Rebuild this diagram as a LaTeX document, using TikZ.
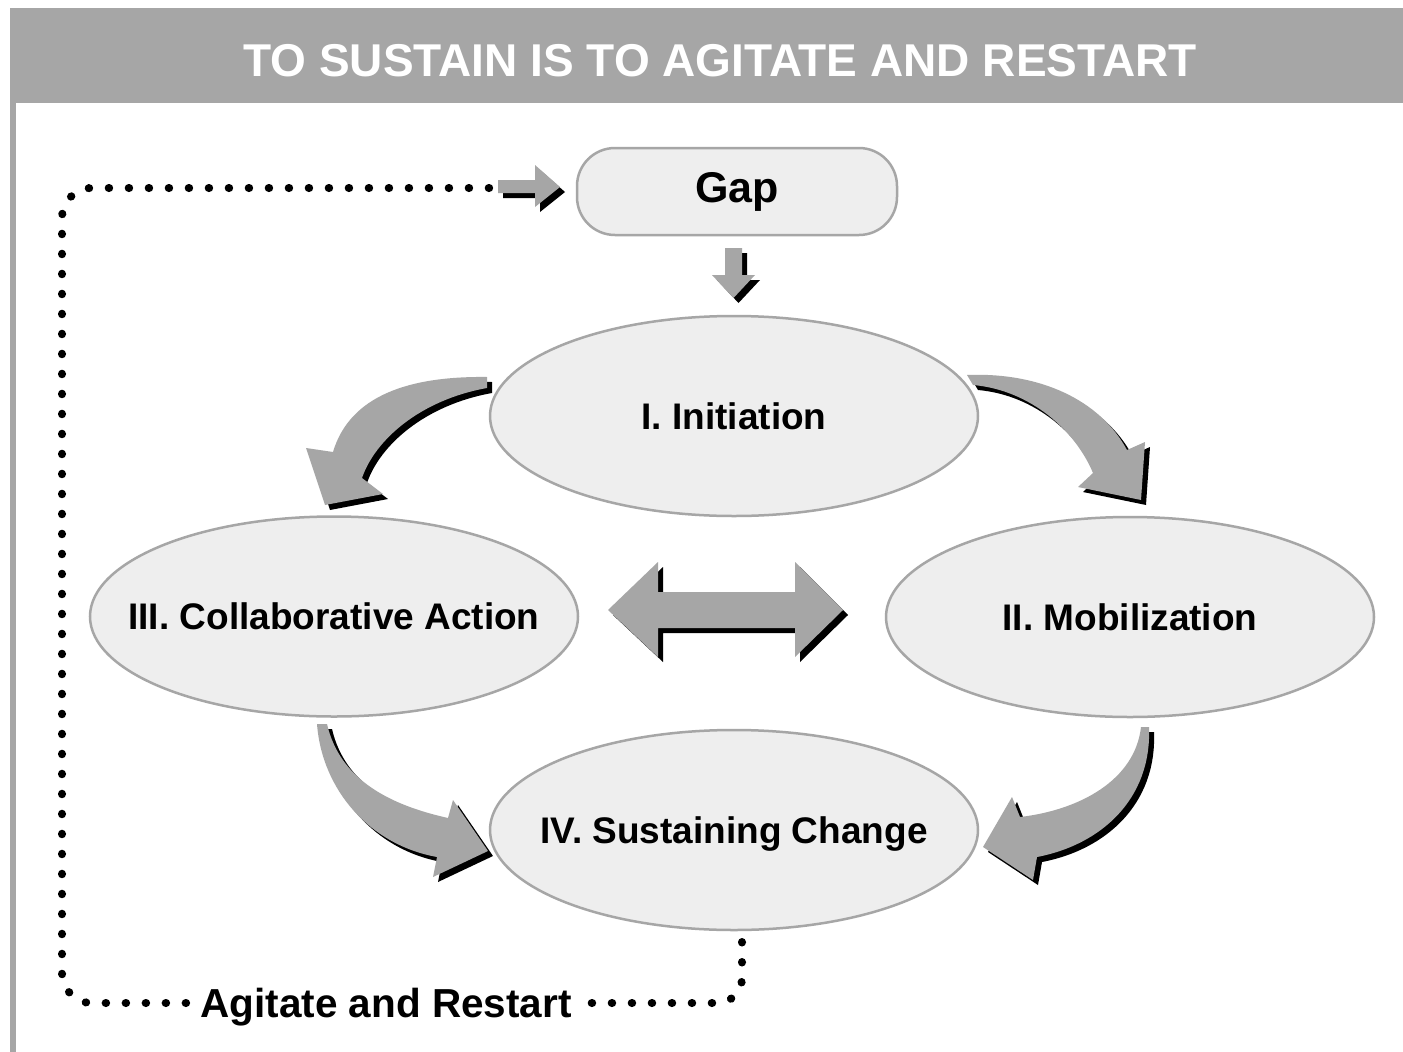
\documentclass[tikz,border=0pt]{standalone}
\usepackage{fontspec}
\setmainfont{Liberation Sans}
\usetikzlibrary{shapes.geometric,shadows}
\definecolor{hdr}{HTML}{A6A6A6}
\definecolor{boxfill}{HTML}{EEEEEE}
\definecolor{agray}{HTML}{A6A6A6}
\begin{document}
\begin{tikzpicture}[x=1pt,y=-1pt,
  stage/.style={ellipse, draw=hdr, line width=2.5pt, fill=boxfill,
    minimum width=488pt, minimum height=200pt, inner sep=0pt},
  stagetext/.style={font=\fontsize{37}{40}\selectfont\bfseries, text depth=0pt, inner sep=0pt},
  blockarrow/.style={fill=agray, draw=none,
    drop shadow={shadow xshift=5pt, shadow yshift=-5pt, fill=black, opacity=1}},
  loopdots/.style={line width=8pt, line cap=round, dash pattern=on 0.5pt off 19.5pt, black}]
\useasboundingbox (0,0) rectangle (1403,1052);
\fill[white] (0,0) rectangle (1403,1052);
% header band and left rule
\fill[hdr] (10,8) rectangle (1403,103);
\fill[hdr] (10,103) rectangle (16,1052);
\node[font=\fontsize{46}{48}\selectfont\bfseries, text=white, anchor=base] (title) at (720,76)
  {TO SUSTAIN IS TO AGITATE AND RESTART};
% nodes
\node[draw=hdr, line width=2.5pt, fill=boxfill, rounded corners=38pt,
  minimum width=320pt, minimum height=87pt, font=\fontsize{43}{46}\selectfont\bfseries] (gap) at (737,191.5) {Gap};
\node[stage, label={[stagetext]center:I. Initiation}] (init) at (734,416) {};
\node[stage, label={[stagetext]center:III. Collaborative Action}] (collab) at (334,616.5) {};
\node[stage, label={[stagetext]center:II. Mobilization}] (mob) at (1130,617) {};
\node[stage, label={[stagetext]center:IV. Sustaining Change}] (sus) at (734,830) {};
% block arrows
\fill[blockarrow] (498,180) -- (535,180) -- (535,165) -- (560,187) -- (535,207) -- (535,193) -- (498,193) -- cycle;
\fill[blockarrow] (725,248) -- (742,248) -- (742,275) -- (755,275) -- (733.5,298) -- (712,275) -- (725,275) -- cycle;
\fill[blockarrow] (608,610) -- (658,562) -- (658,592) -- (795,592) -- (795,562) -- (843,610)
  -- (795,657) -- (795,628) -- (658,628) -- (658,657) -- cycle;
% curved arrows
\fill[blockarrow] (487,377) .. controls (410,376) and (350,395) .. (333,452) -- (306,448) -- (325,505)
  -- (383,494) -- (362,478) .. controls (375,440) and (420,400) .. (487,388) -- cycle;
\fill[blockarrow] (967,375) .. controls (1040,372) and (1100,400) .. (1127,450) -- (1145,442) -- (1141,500)
  -- (1078,487) -- (1093,473) .. controls (1075,430) and (1030,390) .. (973,385) -- cycle;
\fill[blockarrow] (317,724) .. controls (322,790) and (370,845) .. (437,857) -- (433,877) -- (488,851)
  -- (453,800) -- (448,818) .. controls (390,805) and (340,780) .. (327,724) -- cycle;
\fill[blockarrow] (1149,727) .. controls (1152,800) and (1100,845) .. (1037,857) -- (1033,880) -- (983,847)
  -- (1012,797) -- (1020,817) .. controls (1080,810) and (1135,780) .. (1141,727) -- cycle;
% agitate and restart loop
\coordinate (loopstart) at (742,942);
\coordinate (loopend) at (490,188);
\node[font=\fontsize{40.5}{43}\selectfont\bfseries, text depth=0pt, inner xsep=14pt, inner ysep=2pt] (agit) at (386,1003) {Agitate and Restart};
\draw[loopdots, rounded corners=25pt] (loopstart) -- (742,1003) -- (agit.east);
\draw[loopdots, rounded corners=30pt] (agit.west) -- (62,1003) -- (62,188) -- (loopend);
\end{tikzpicture}
\end{document}
